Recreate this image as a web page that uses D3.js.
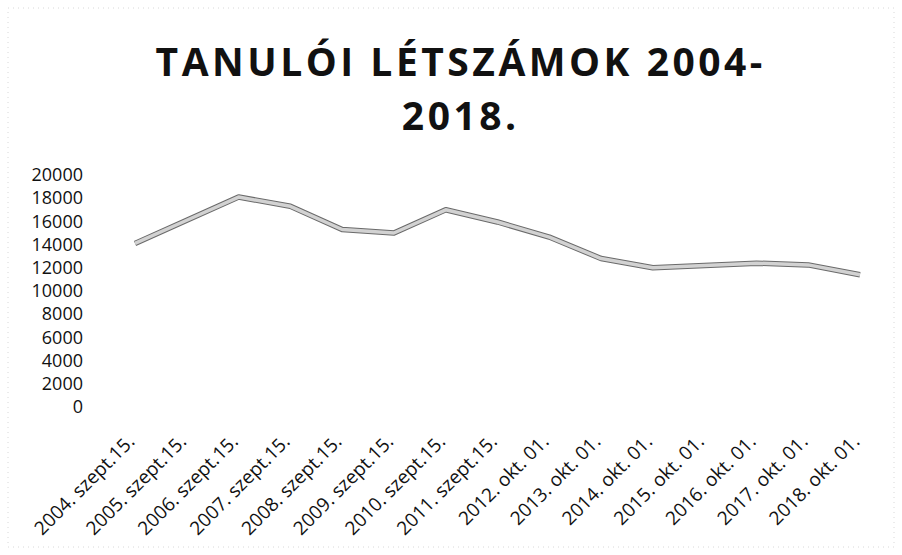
<!DOCTYPE html>
<html>
<head>
<meta charset="utf-8">
<script src="https://cdn.jsdelivr.net/npm/d3@7"></script>
<style>
  body { margin: 0; background: #fff; }
  text { font-family: "Open Sans", "Noto Sans", sans-serif; fill: #111; }
</style>
</head>
<body>
<div id="chart"></div>
<script>
// Data
const categories = ['2004. szept.15.', '2005. szept.15.', '2006. szept.15.', '2007. szept.15.',
    '2008. szept.15.', '2009. szept.15.', '2010. szept.15.', '2011. szept.15.',
    '2012. okt. 01.', '2013. okt. 01.', '2014. okt. 01.', '2015. okt. 01.',
    '2016. okt. 01.', '2017. okt. 01.', '2018. okt. 01.']
const students = [14100, 16100, 18100, 17300, 15300, 15000, 17000, 15950,
    14650, 12800, 12000, 12200, 12400, 12250, 11400]
const yTicks = [0, 2000, 4000, 6000, 8000, 10000, 12000, 14000, 16000, 18000, 20000]
const titleLines = ['TANULÓI LÉTSZÁMOK 2004-', '2018.']

const width = 902
const height = 555

const svg = d3.select('#chart').append('svg')
    .attr('width', width)
    .attr('height', height)

// faint scan border
svg.append('rect')
    .attr('x', 8).attr('y', 8)
    .attr('width', width - 16).attr('height', height - 16)
    .attr('fill', 'none')
    .attr('stroke', '#d8d8d8')
    .attr('stroke-dasharray', '1 4')

// Title
const spacing = 3.5
svg.append('g').selectAll('text')
    .data(titleLines)
    .enter().append('text')
        .attr('x', 459 + spacing / 2)
        .attr('y', (d, i) => 76 + i * 54)
        .attr('text-anchor', 'middle')
        .style('font-size', '39px')
        .style('font-weight', 'bold')
        .style('letter-spacing', spacing + 'px')
        .text(d => d)

// Scales
const x = d3.scalePoint()
    .domain(categories)
    .range([135, 860])

const y = d3.scaleLinear()
    .domain([0, 20000])
    .range([407, 175])

// Y axis
const yAxis = svg.append('g')
    .attr('transform', 'translate(83, 0)')
    .call(d3.axisLeft(y).tickValues(yTicks).tickFormat(d3.format('d')).tickSize(0).tickPadding(0))
yAxis.select('.domain').remove()
yAxis.selectAll('text')
    .style('font-family', '"Open Sans", sans-serif')
    .style('font-size', '18px')
    .attr('fill', '#111')

// X labels
svg.append('g').selectAll('text')
    .data(categories)
    .enter().append('text')
        .attr('transform', d => `translate(${x(d) - 4}, 438) rotate(-45)`)
        .attr('text-anchor', 'end')
        .attr('dy', '0.35em')
        .style('font-size', '19px')
        .text(d => d)

// Line
const line = d3.line()
    .x((d, i) => x(categories[i]))
    .y(d => y(d))

svg.append('path')
    .datum(students)
    .attr('d', line)
    .attr('fill', 'none')
    .attr('stroke', '#6a6a6a')
    .attr('stroke-width', 5.5)
    .attr('stroke-linejoin', 'round')

svg.append('path')
    .datum(students)
    .attr('d', line)
    .attr('fill', 'none')
    .attr('stroke', '#d2d2d2')
    .attr('stroke-width', 3.5)
    .attr('stroke-linejoin', 'round')
</script>
</body>
</html>
